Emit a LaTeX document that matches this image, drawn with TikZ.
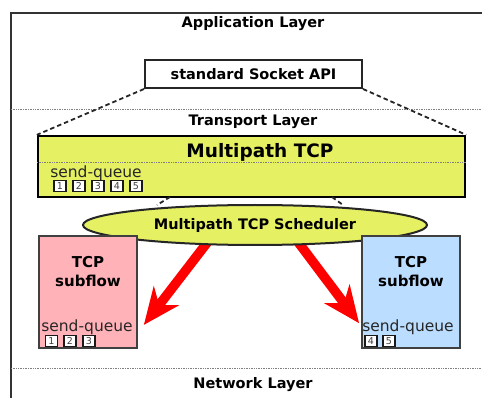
\documentclass[tikz,border=0pt]{standalone}
\usepackage{fontspec}
\setmainfont{DejaVu Sans}
\usepackage{tikz}
\usetikzlibrary{arrows.meta}
\usetikzlibrary{shapes.geometric}
\usetikzlibrary{positioning}
\usetikzlibrary{backgrounds}
\definecolor{mptcpyellow}{RGB}{229,240,98}
\definecolor{flowpink}{RGB}{255,178,184}
\definecolor{flowblue}{RGB}{187,221,255}
\tikzset{
    layerlabel/.style={font=\fontsize{14.5}{16}\selectfont\bfseries},
    layerline/.style={draw=black!50, line width=1pt, dash pattern=on 1pt off 0.7pt},
    framebox/.style={draw=black!80, line width=2pt},
    apibox/.style={draw=black!85, line width=2pt, fill=white, inner sep=0pt,
        minimum width=217, minimum height=28, font=\fontsize{14.5}{16}\selectfont\bfseries},
    mptcpbox/.style={draw=black, line width=2.3pt, fill=mptcpyellow, inner sep=0pt,
        minimum width=427, minimum height=61},
    schedellipse/.style={ellipse, draw=black!85, line width=2pt, fill=mptcpyellow, inner sep=0pt,
        minimum width=344, minimum height=40, font=\fontsize{14.5}{16}\selectfont\bfseries},
    subflowbox/.style={draw=black!75, line width=2pt, inner sep=0pt,
        minimum width=98, minimum height=112},
    subflowtext/.style={align=center, font=\fontsize{15}{19}\selectfont\bfseries},
    queuetext/.style={inner sep=0pt, font=\fontsize{15.5}{17}\selectfont, text=black!85},
    numbox/.style={draw=black!90, line width=1.6pt, fill=white, inner sep=0pt,
        minimum width=12, minimum height=11, font=\fontsize{9.5}{9.5}\selectfont, text=black!75},
    apiline/.style={draw=black!85, line width=1.8pt, dash pattern=on 4.5pt off 3pt},
    schedarrow/.style={draw=red, line width=9.5pt,
        -{Stealth[length=37pt, width=32pt, inset=12pt, line width=0pt]}},
}

\begin{document}
\begin{tikzpicture}[x=1pt, y=-1pt]
    \useasboundingbox (0,0) rectangle (482,398);
    % outer frame and layer separators
    \draw[framebox] (11,398) -- (11,13) -- (482,13);
    \coordinate (appl) at (11,110);
    \coordinate (appr) at (482,110);
    \coordinate (netl) at (11,368);
    \coordinate (netr) at (482,368);
    \draw[layerline] (appl) -- (appr);
    \draw[layerline] (netl) -- (netr);
    \node[layerlabel] (applayer) at (253,24) {Application Layer};
    \node[layerlabel] (translayer) at (253,122) {Transport Layer};
    \node[layerlabel] (netlayer) at (253,385) {Network Layer};
    % socket api and multipath tcp
    \node[apibox] (api) at (253.5,74) {standard Socket API};
    \node[mptcpbox] (mptcp) at (251.5,166.5) {};
    \node[font=\fontsize{18.5}{20}\selectfont\bfseries] (mptcptxt) at (260,152) {Multipath TCP};
    \draw[layerline] ([yshift=3.5pt]mptcp.west) -- ([yshift=3.5pt]mptcp.east);
    \draw[apiline] (api.south west) -- (mptcp.north west);
    \draw[apiline] (api.south east) -- (mptcp.north east);
    \node[queuetext] (mqtxt) at (96,173) {send-queue};
    \foreach \n/\x in {1/60,2/79,3/98,4/117,5/136}
        \node[numbox] (mq\n) at (\x,186) {\n};
    % scheduler
    \coordinate (ldasha) at (170,197);
    \coordinate (ldashb) at (157,205);
    \coordinate (rdasha) at (332,197);
    \coordinate (rdashb) at (343,205);
    \draw[apiline] (ldasha) -- (ldashb);
    \draw[apiline] (rdasha) -- (rdashb);
    \node[schedellipse] (sched) at (255,225) {Multipath TCP Scheduler};
    % subflows
    \node[subflowbox, fill=flowpink] (lsub) at (88,292) {};
    \node[subflowtext] (lsubtxt) at (88,272) {TCP\\subflow};
    \node[queuetext] (lqtxt) at (87,327) {send-queue};
    \foreach \n/\x in {1/51.5,2/70,3/89}
        \node[numbox] (lq\n) at (\x,341) {\n};
    \node[subflowbox, fill=flowblue] (rsub) at (411,292) {};
    \node[subflowtext] (rsubtxt) at (411,272) {TCP\\subflow};
    \node[queuetext] (rqtxt) at (408,327) {send-queue};
    \foreach \n/\x in {4/371,5/389}
        \node[numbox] (rq\n) at (\x,341) {\n};
    % scheduler arrows
    \begin{scope}[on background layer]
        \draw[schedarrow, shorten <=-8pt, shorten >=9.7pt] (sched.202) -- (lsub.-39.6);
        \draw[schedarrow, shorten <=-8pt, shorten >=3.3pt] (sched.336) -- (rsub.214.4);
    \end{scope}
\end{tikzpicture}
\end{document}
